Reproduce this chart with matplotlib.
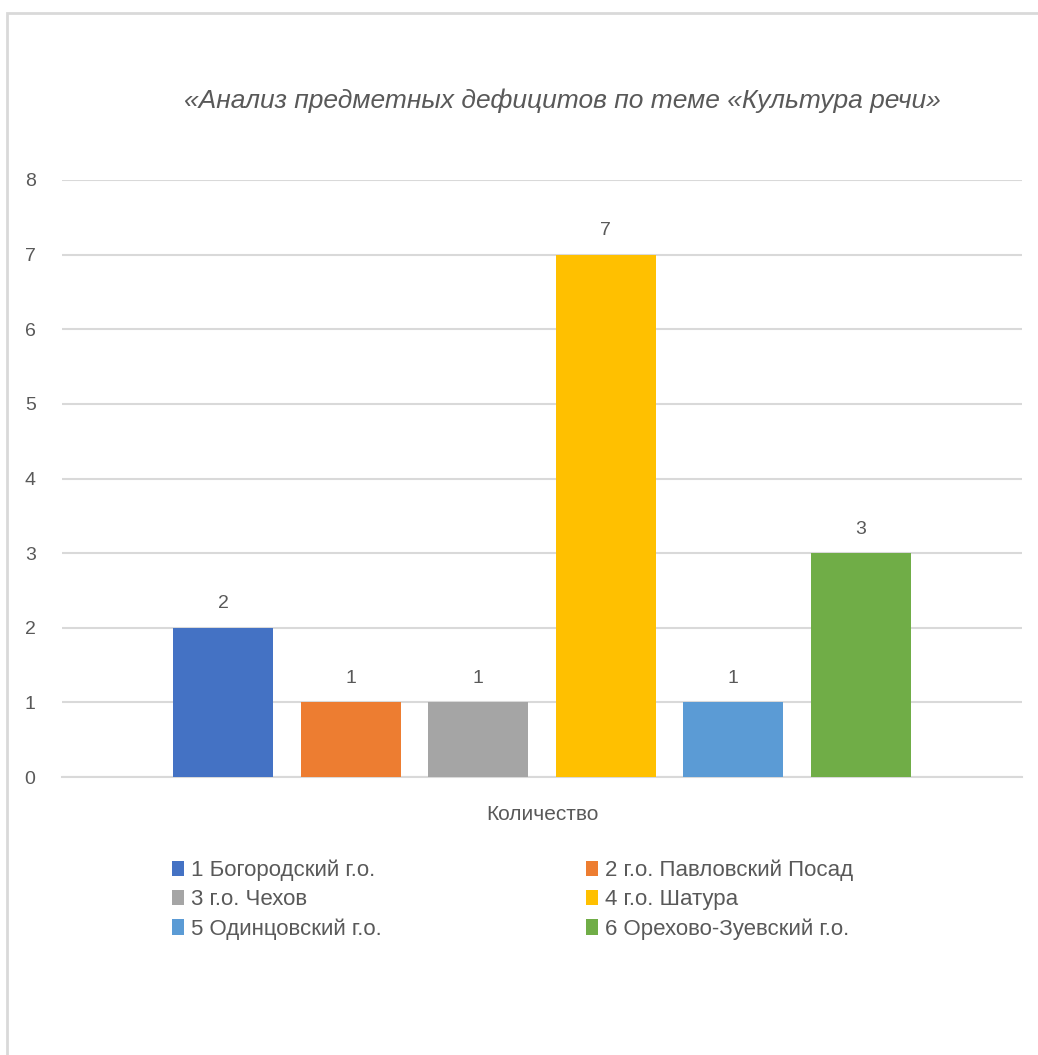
import numpy as np
import matplotlib
matplotlib.use("Agg")
import matplotlib.pyplot as plt
from matplotlib.patches import Rectangle

# data
series_names = [
    "1 Богородский г.о.",
    "2 г.о. Павловский Посад",
    "3 г.о. Чехов",
    "4 г.о. Шатура",
    "5 Одинцовский г.о.",
    "6 Орехово-Зуевский г.о.",
]
values = [2, 1, 1, 7, 1, 3]
colors = ["#4472C4", "#ED7D31", "#A5A5A5", "#FFC000", "#5B9BD5", "#70AD47"]
category = "Количество"
title = "«Анализ предметных дефицитов по теме «Культура речи»"

TEXT = "#595959"
GRID = "#D9D9D9"

plt.rcParams["font.family"] = ["Liberation Sans", "DejaVu Sans"]

fig = plt.figure(figsize=(10.38, 10.55), dpi=100)
ax = fig.add_axes([62 / 1038, 1 - 777 / 1055, 960 / 1038, 597 / 1055])

n = len(values)
step = 127.6 / 960
width = 100 / 960
handles = []
for i, (name, v, c) in enumerate(zip(series_names, values, colors)):
    x = (i - (n - 1) / 2) * step
    bars = ax.bar(x, v, width=width, color=c, label=name, zorder=3)
    ax.bar_label(bars, padding=11, fontsize=14, color=TEXT)
    handles.append(bars)

ax.set_xlim(-0.5, 0.5)
ax.set_ylim(0, 8)
ax.set_yticks(range(0, 9))
ax.set_xticks([0])
ax.set_xticklabels([category])
ax.tick_params(axis="y", length=0, pad=19, labelsize=14, labelcolor=TEXT)
ax.tick_params(axis="x", length=0, pad=20, labelsize=15, labelcolor=TEXT)
ax.grid(axis="y", color=GRID, linewidth=1.5, zorder=0)
for s in ["top", "right", "left"]:
    ax.spines[s].set_visible(False)
ax.spines["bottom"].set_color(GRID)
ax.spines["bottom"].set_linewidth(1.5)

fig.text(562 / 1038, 1 - 101 / 1055, title, ha="center", va="center",
         fontsize=19, style="italic", color=TEXT)

# legend filled row by row: reorder for column-major layout
order = [0, 2, 4, 1, 3, 5]
fig.legend([handles[i] for i in order], [series_names[i] for i in order],
           loc="upper left", bbox_to_anchor=(163 / 1038, 1 - 851 / 1055),
           ncol=2, frameon=False, fontsize=16, labelcolor=TEXT,
           handlelength=0.55, handleheight=0.7, handletextpad=0.3,
           columnspacing=9.2, labelspacing=0.36, borderaxespad=0)

fig.patches.append(Rectangle((7 / 1038, -0.05), 1.2, 1 - 13 / 1055 + 0.05,
                             transform=fig.transFigure, fill=False,
                             edgecolor=GRID, linewidth=2))

plt.savefig("out.png", dpi=100)
plt.close()
